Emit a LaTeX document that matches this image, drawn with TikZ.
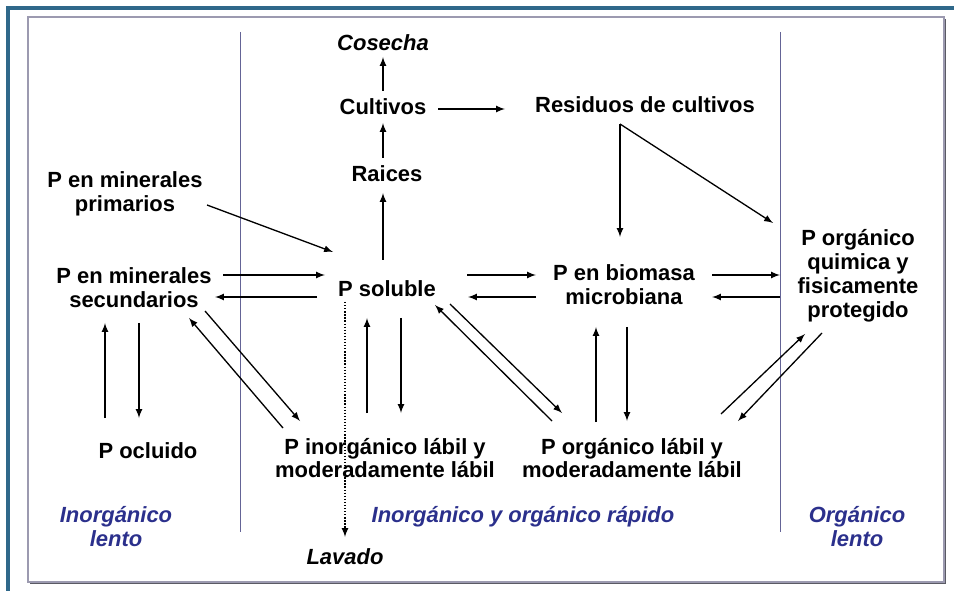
\documentclass[tikz,border=0pt]{standalone}
\usepackage{fontspec}
\setmainfont{Liberation Sans}
\definecolor{marco}{RGB}{47,104,138}
\definecolor{borde}{RGB}{156,154,176}
\definecolor{sombra}{RGB}{90,90,100}
\definecolor{division}{RGB}{100,100,150}
\definecolor{zona}{RGB}{43,48,140}

\begin{document}
\begin{tikzpicture}[x=0.02cm, y=-0.02cm,
		caja/.style={align=center, inner sep=0pt, font=\fontsize{12.5}{13.6}\selectfont\bfseries},
		salida/.style={caja, font=\fontsize{12.5}{13.6}\selectfont\bfseries\itshape},
		zonas/.style={salida, text=zona},
		flujo/.style={-latex, line width=0.75pt}]
		\useasboundingbox (0,0) rectangle (954,591);
		\draw [marco, line width=2.2pt](8,591) -- (8,8) -- (954,8);
		\draw [sombra, line width=1.3pt](30,583) -- (945,583) -- (945,19);
		\draw [borde, line width=1.3pt](28,17) rectangle (944,582);
		\draw [division, line width=0.5pt](240,32) -- (240,532);
		\draw [division, line width=0.5pt](780,32) -- (780,532);

		\node (cos)[salida] at (383,43) {Cosecha};
		\node (cul)[caja] at (383,107) {Cultivos};
		\node (res)[caja] at (645,105) {Residuos de cultivos};
		\node (rai)[caja] at (387,174) {Raices};
		\node (pri)[caja] at (125,194) {P en minerales\\primarios};
		\node (sol)[caja] at (387,289) {P soluble};
		\node (sec)[caja] at (134,288) {P en minerales\\secundarios};
		\node (bio)[caja] at (624,285) {P en biomasa\\microbiana};
		\node (pro)[caja] at (858,276) {P orgánico\\quimica y\\fisicamente\\protegido};
		\node (ocl)[caja] at (148,451) {P ocluido};
		\node (inl)[caja] at (385,458) {P inorgánico lábil y\\moderadamente lábil};
		\node (orl)[caja] at (632,458) {P orgánico lábil y\\moderadamente lábil};
		\node (lav)[salida] at (345,557) {Lavado};
		\node (zil)[zonas] at (116,527) {Inorgánico\\lento};
		\node (zio)[zonas] at (523,517) {Inorgánico y orgánico rápido};
		\node (zol)[zonas] at (857,527) {Orgánico\\lento};

		\draw [flujo]([shift={(0,-16)}]cul.center) -- ([shift={(0,14)}]cos.center);
		\draw [flujo]([shift={(-4,-16)}]rai.center) -- ([shift={(0,16)}]cul.center);
		\draw [flujo]([shift={(-4,-29)}]sol.center) -- ([shift={(-4,19)}]rai.center);
		\draw [flujo]([shift={(55,2)}]cul.center) -- ([shift={(-140,4)}]res.center);
		\draw [flujo]([shift={(-25,19)}]res.center) -- ([shift={(-4,-48)}]bio.center);
		\draw [flujo]([shift={(-25,19)}]res.center) -- ([shift={(-85,-53)}]pro.center);
		\draw [flujo]([shift={(82,11)}]pri.center) -- ([shift={(-54,-37)}]sol.center);

		\draw [flujo]([shift={(89,-13)}]sec.center) -- ([shift={(-62,-14)}]sol.center);
		\draw [flujo]([shift={(-70,8)}]sol.center) -- ([shift={(81,9)}]sec.center);
		\draw [flujo]([shift={(80,-14)}]sol.center) -- ([shift={(-88,-10)}]bio.center);
		\draw [flujo]([shift={(-88,12)}]bio.center) -- ([shift={(81,8)}]sol.center);
		\draw [flujo]([shift={(88,-10)}]bio.center) -- ([shift={(-78,-1)}]pro.center);
		\draw [flujo]([shift={(-78,21)}]pro.center) -- ([shift={(88,12)}]bio.center);

		\draw [flujo]([shift={(-43,-33)}]ocl.center) -- ([shift={(-29,35)}]sec.center);
		\draw [flujo]([shift={(5,35)}]sec.center) -- ([shift={(-9,-33)}]ocl.center);
		\draw [flujo]([shift={(-102,-30)}]inl.center) -- ([shift={(55,30)}]sec.center);
		\draw [flujo]([shift={(71,23)}]sec.center) -- ([shift={(-85,-37)}]inl.center);
		\draw [flujo]([shift={(-18,-45)}]inl.center) -- ([shift={(-20,29)}]sol.center);
		\draw [flujo]([shift={(14,29)}]sol.center) -- ([shift={(16,-45)}]inl.center);
		\draw [flujo]([shift={(-80,-37)}]orl.center) -- ([shift={(48,16)}]sol.center);
		\draw [flujo]([shift={(63,15)}]sol.center) -- ([shift={(-70,-45)}]orl.center);
		\draw [flujo]([shift={(-36,-36)}]orl.center) -- ([shift={(-28,42)}]bio.center);
		\draw [flujo]([shift={(3,42)}]bio.center) -- ([shift={(-5,-37)}]orl.center);
		\draw [flujo]([shift={(89,-44)}]orl.center) -- ([shift={(-53,58)}]pro.center);
		\draw [flujo]([shift={(-36,57)}]pro.center) -- ([shift={(106,-37)}]orl.center);

		\draw [flujo, densely dotted]([shift={(-42,13)}]sol.center) -- ([shift={(0,-20)}]lav.center);
	\end{tikzpicture}
\end{document}
